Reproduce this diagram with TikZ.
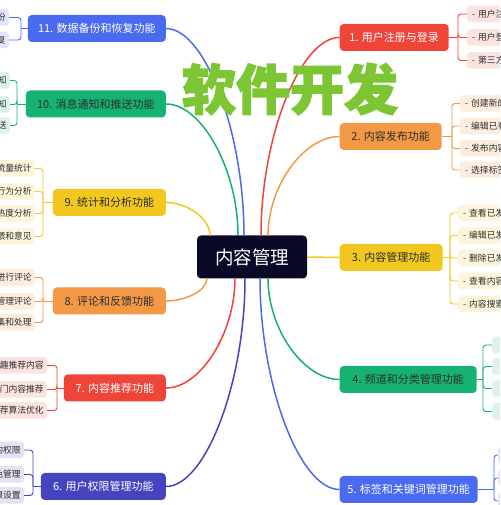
\documentclass[tikz,border=0pt]{standalone}
\usepackage{fontspec}
\setmainfont{Noto Sans CJK SC}
\newfontfamily\titlefont[BoldFeatures={FakeBold=2.5}]{Noto Sans CJK SC}
\usetikzlibrary{calc}
\definecolor{cred}{RGB}{239,68,56}
\definecolor{corange}{RGB}{243,153,70}
\definecolor{cyellow}{RGB}{242,200,32}
\definecolor{cgreen}{RGB}{22,178,116}
\definecolor{cblue}{RGB}{74,106,240}
\definecolor{cindigo}{RGB}{68,68,190}
\definecolor{cnavy}{RGB}{10,10,40}
\definecolor{ctitle}{RGB}{124,198,52}
\definecolor{ctext}{RGB}{45,45,45}
\definecolor{lred}{RGB}{251,227,224}
\definecolor{lorange}{RGB}{253,237,222}
\definecolor{lyellow}{RGB}{252,245,220}
\definecolor{lgreen}{RGB}{221,243,234}
\definecolor{lblue}{RGB}{226,230,251}
\definecolor{lindigo}{RGB}{227,227,243}
\begin{document}
\begin{tikzpicture}[x=1pt,y=1pt,
  centerbox/.style={fill=cnavy, text=white, rounded corners=4pt, minimum width=110pt, minimum height=43pt, inner sep=0pt, font=\fontsize{18.5}{20}\selectfont},
  branch/.style={rounded corners=4pt, minimum height=27pt, inner xsep=4pt, inner ysep=0pt, font=\fontsize{11}{13}\selectfont},
  bl/.style={branch, anchor=east},
  br/.style={branch, anchor=west},
  leafL/.style={rounded corners=3pt, minimum height=16.5pt, text width=60pt, align=right, inner xsep=3pt, inner ysep=0pt, anchor=east, font=\fontsize{8.8}{10}\selectfont, text=ctext},
  leafR/.style={rounded corners=3pt, minimum height=16.5pt, text width=60pt, align=left, inner xsep=5pt, inner ysep=0pt, anchor=west, font=\fontsize{8.8}{10}\selectfont, text=ctext},
  mainline/.style={line width=1.5pt},
  brk/.style={line width=0.9pt, rounded corners=3pt}]
\useasboundingbox (0,0) rectangle (500,505);
\clip (0,0) rectangle (500,505);
\fill[white] (0,0) rectangle (500,505);

% center
\node[centerbox] (c) at (252,248) {内容管理};

% branches right
\node[br, fill=cred, text=white, minimum width=109pt] (b1) at (339.5,467.5) {1. 用户注册与登录};
\node[br, fill=corange, text=ctext, minimum width=102pt] (b2) at (339.5,368.5) {2. 内容发布功能};
\node[br, fill=cyellow, text=ctext, minimum width=103pt] (b3) at (339.5,247.5) {3. 内容管理功能};
\node[br, fill=cgreen, text=ctext, minimum width=137pt] (b4) at (339.5,125.5) {4. 频道和分类管理功能};
\node[br, fill=cblue, text=white, minimum width=138pt] (b5) at (339.5,15.5) {5. 标签和关键词管理功能};
% branches left
\node[bl, fill=cblue, text=white, minimum width=138pt] (b11) at (166,476.5) {11. 数据备份和恢复功能};
\node[bl, fill=cgreen, text=ctext, minimum width=140pt] (b10) at (166,401) {10. 消息通知和推送功能};
\node[bl, fill=cyellow, text=ctext, minimum width=113pt] (b9) at (166,302.5) {9. 统计和分析功能};
\node[bl, fill=corange, text=ctext, minimum width=113pt] (b8) at (166,204) {8. 评论和反馈功能};
\node[bl, fill=cred, text=white, minimum width=102pt] (b7) at (166,117) {7. 内容推荐功能};
\node[bl, fill=cindigo, text=white, minimum width=125pt] (b6) at (166,18.5) {6. 用户权限管理功能};

% leaves right
\node[leafR, fill=lred] (l1a) at (467,491) {- 用户注};
\node[leafR, fill=lred] (l1b) at (467,467.5) {- 用户登};
\node[leafR, fill=lred] (l1c) at (467,444.5) {- 第三方};
\node[leafR, fill=lorange] (l2a) at (460,401.5) {- 创建新的};
\node[leafR, fill=lorange] (l2b) at (460,379) {- 编辑已有};
\node[leafR, fill=lorange] (l2c) at (460,356.5) {- 发布内容};
\node[leafR, fill=lorange] (l2d) at (460,335) {- 选择标签};
\node[leafR, fill=lyellow] (l3a) at (458,292) {- 查看已发};
\node[leafR, fill=lyellow] (l3b) at (458,269.5) {- 编辑已发};
\node[leafR, fill=lyellow] (l3c) at (458,247) {- 删除已发};
\node[leafR, fill=lyellow] (l3d) at (458,224) {- 查看内容};
\node[leafR, fill=lyellow] (l3e) at (458,201) {- 内容搜索};
\node[leafR, fill=lgreen] (l4a) at (492,160) {};
\node[leafR, fill=lgreen] (l4b) at (492,138.5) {};
\node[leafR, fill=lgreen] (l4c) at (492,116.5) {};
\node[leafR, fill=lgreen] (l4d) at (492,93.5) {};
\node[leafR, fill=lblue] (l5a) at (498,50) {};
\node[leafR, fill=lblue] (l5b) at (498,27) {};
\node[leafR, fill=lblue] (l5c) at (498,4) {};
% leaves left
\node[leafL, fill=lblue] (l11a) at (9,487.5) {份};
\node[leafL, fill=lblue] (l11b) at (9,465) {复};
\node[leafL, fill=lgreen] (l10a) at (10,424.5) {知};
\node[leafL, fill=lgreen] (l10b) at (10,400.5) {知};
\node[leafL, fill=lgreen] (l10c) at (10,379.5) {送};
\node[leafL, fill=lyellow] (l9a) at (35,336.5) {流量统计};
\node[leafL, fill=lyellow] (l9b) at (35,313.5) {行为分析};
\node[leafL, fill=lyellow] (l9c) at (35,291.5) {热度分析};
\node[leafL, fill=lyellow] (l9d) at (35,268.5) {馈和意见};
\node[leafL, fill=lorange] (l8a) at (35,227.5) {进行评论};
\node[leafL, fill=lorange] (l8b) at (35,203.5) {管理评论};
\node[leafL, fill=lorange] (l8c) at (35,182.5) {集和处理};
\node[leafL, fill=lred] (l7a) at (47,139.5) {趣推荐内容};
\node[leafL, fill=lred] (l7b) at (47,115.5) {门内容推荐};
\node[leafL, fill=lred] (l7c) at (47,94.5) {荐算法优化};
\node[leafL, fill=lindigo] (l6a) at (24,55) {的权限};
\node[leafL, fill=lindigo] (l6b) at (24,30.5) {色管理};
\node[leafL, fill=lindigo] (l6c) at (24,9.5) {限设置};

% bracket junctions
\coordinate (k1) at (458,467.5);
\coordinate (k2) at (452,368.5);
\coordinate (k3) at (450,247.5);
\coordinate (k4) at (483,125.5);
\coordinate (k5) at (494,15.5);
\coordinate (k11) at (21,476.5);
\coordinate (k10) at (17,401);
\coordinate (k9) at (43,302.5);
\coordinate (k8) at (43,204);
\coordinate (k7) at (57,117);
\coordinate (k6) at (33,18.5);

\draw[brk, cred] (b1.east) -- (k1);
\foreach \l in {l1a,l1b,l1c} \draw[brk, cred] (k1) |- (\l.west);
\draw[brk, corange] (b2.east) -- (k2);
\foreach \l in {l2a,l2b,l2c,l2d} \draw[brk, corange] (k2) |- (\l.west);
\draw[brk, cyellow] (b3.east) -- (k3);
\foreach \l in {l3a,l3b,l3c,l3d,l3e} \draw[brk, cyellow] (k3) |- (\l.west);
\draw[brk, cgreen] (b4.east) -- (k4);
\foreach \l in {l4a,l4b,l4c,l4d} \draw[brk, cgreen] (k4) |- (\l.west);
\draw[brk, cblue] (b5.east) -- (k5);
\foreach \l in {l5a,l5b,l5c} \draw[brk, cblue] (k5) |- (\l.west);
\draw[brk, cblue] (b11.west) -- (k11);
\foreach \l in {l11a,l11b} \draw[brk, cblue] (k11) |- (\l.east);
\draw[brk, cgreen] (b10.west) -- (k10);
\foreach \l in {l10a,l10b,l10c} \draw[brk, cgreen] (k10) |- (\l.east);
\draw[brk, cyellow] (b9.west) -- (k9);
\foreach \l in {l9a,l9b,l9c,l9d} \draw[brk, cyellow] (k9) |- (\l.east);
\draw[brk, corange] (b8.west) -- (k8);
\foreach \l in {l8a,l8b,l8c} \draw[brk, corange] (k8) |- (\l.east);
\draw[brk, cred] (b7.west) -- (k7);
\foreach \l in {l7a,l7b,l7c} \draw[brk, cred] (k7) |- (\l.east);
\draw[brk, cindigo] (b6.west) -- (k6);
\foreach \l in {l6a,l6b,l6c} \draw[brk, cindigo] (k6) |- (\l.east);

% start points on center box
\coordinate (s9) at (210,269.5);
\coordinate (s10) at (238,269.5);
\coordinate (s11) at (244,269.5);
\coordinate (s1) at (261,269.5);
\coordinate (s2) at (268,269.5);
\coordinate (s8) at (207,226.5);
\coordinate (s7) at (235,226.5);
\coordinate (s6) at (245,226.5);
\coordinate (s5) at (260,226.5);
\coordinate (s4) at (268,226.5);

\draw[mainline, cyellow] (s9) .. controls (210,286) and (188,302.5) .. (b9.east);
\draw[mainline, cgreen] (s10) .. controls (238,335) and (202,401) .. (b10.east);
\draw[mainline, cblue] (s11) .. controls (244,373) and (205,476.5) .. (b11.east);
\draw[mainline, cred] (s1) .. controls (261,368.5) and (300.5,467.5) .. (b1.west);
\draw[mainline, corange] (s2) .. controls (268,319) and (304,368.5) .. (b2.west);
\draw[mainline, corange] (s8) .. controls (207,215) and (186.5,204) .. (b8.east);
\draw[mainline, cred] (s7) .. controls (235,172) and (200.5,117) .. (b7.east);
\draw[mainline, cindigo] (s6) .. controls (245,122.5) and (205.5,18.5) .. (b6.east);
\draw[mainline, cblue] (s5) .. controls (260,121) and (299.5,15.5) .. (b5.west);
\draw[mainline, cgreen] (s4) .. controls (268,176) and (303.5,125.5) .. (b4.west);
\draw[mainline, cyellow] (c.east) -- (b3.west);

% title
\node[font=\titlefont\bfseries\fontsize{54}{56}\selectfont, text=ctitle, inner sep=0pt] (t) at (290,416) {软件开发};
\end{tikzpicture}
\end{document}
